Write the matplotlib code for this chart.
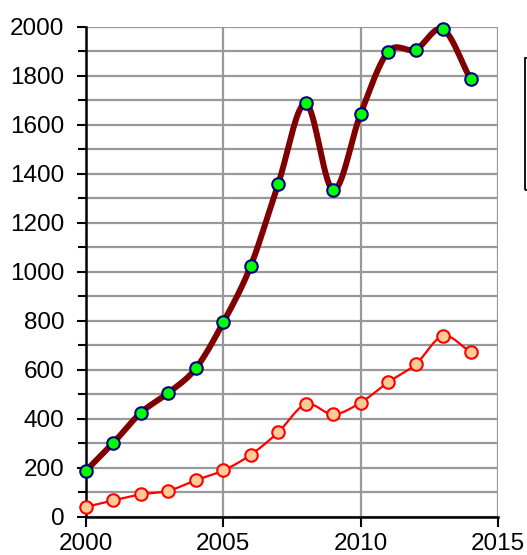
import numpy as np
import matplotlib
matplotlib.use("Agg")
import matplotlib.pyplot as plt
from matplotlib.patches import Rectangle
from matplotlib.ticker import MultipleLocator

years = [2000, 2001, 2002, 2003, 2004, 2005, 2006, 2007, 2008, 2009, 2010, 2011, 2012, 2013, 2014]
series_dark = [188, 302, 425, 506, 606, 794, 1025, 1360, 1688, 1334, 1646, 1899, 1908, 1990, 1787]
series_light = [40, 67, 91, 106, 149, 189, 253, 345, 459, 418, 466, 549, 622, 738, 672]
x_ticks = [2000, 2005, 2010, 2015]
y_ticks = [0, 200, 400, 600, 800, 1000, 1200, 1400, 1600, 1800, 2000]


def smooth(x, y, n=20):
    """Catmull-Rom spline through the data points (for a smoothed line)."""
    x = np.asarray(x, float)
    y = np.asarray(y, float)
    px = np.concatenate([[2 * x[0] - x[1]], x, [2 * x[-1] - x[-2]]])
    py = np.concatenate([[2 * y[0] - y[1]], y, [2 * y[-1] - y[-2]]])
    xs, ys = [], []
    t = np.linspace(0, 1, n, endpoint=False)
    for i in range(1, len(px) - 2):
        for P, out in ((px[i - 1:i + 3], xs), (py[i - 1:i + 3], ys)):
            a0, a1, a2, a3 = P
            out.extend(0.5 * ((2 * a1) + (-a0 + a2) * t + (2 * a0 - 5 * a1 + 4 * a2 - a3) * t ** 2
                              + (-a0 + 3 * a1 - 3 * a2 + a3) * t ** 3))
    xs.append(x[-1])
    ys.append(y[-1])
    return np.array(xs), np.array(ys)


plt.rcParams['font.family'] = ['Liberation Sans', 'DejaVu Sans']

fig = plt.figure(figsize=(5.27, 5.55), dpi=100)
ax = fig.add_axes([86 / 527, 1 - 516.7 / 555, (498 - 86) / 527, (516.7 - 27) / 555])

grid_color = '#999999'
ax.set_xlim(2000, 2015)
ax.set_ylim(0, 2000)
ax.set_xticks(x_ticks)
ax.set_yticks(y_ticks)
ax.yaxis.set_minor_locator(MultipleLocator(100))
ax.grid(True, which='major', axis='x', color=grid_color, linewidth=1.6, zorder=0)
ax.grid(True, which='both', axis='y', color=grid_color, linewidth=1.6, zorder=0)
ax.set_axisbelow(True)

for s in ['top', 'right']:
    ax.spines[s].set_visible(False)
for s in ['left', 'bottom']:
    ax.spines[s].set_linewidth(1.8)
    ax.spines[s].set_color('black')
    ax.spines[s].set_zorder(2)

ax.tick_params(axis='x', which='major', direction='out', length=7, width=1.5, pad=5, labelsize=17.5)
ax.tick_params(axis='y', which='major', direction='out', length=6.5, width=1.5, pad=9, labelsize=17.5)
ax.tick_params(axis='y', which='minor', direction='out', length=5.5, width=1.5)

# dark series
sx, sy = smooth(years, series_dark)
ax.plot(sx, sy, color='#800000', linewidth=4.3, solid_capstyle='round', solid_joinstyle='round',
        zorder=3, clip_on=False)
ax.plot(years, series_dark, linestyle='none', marker='o', markersize=9,
        markerfacecolor='#00ff00', markeredgecolor='#000080', markeredgewidth=1.5, zorder=4, clip_on=False)

# light series
lx, ly = smooth(years, series_light)
ax.plot(lx, ly, color='#ff0000', linewidth=1.6, zorder=3, clip_on=False)
ax.plot(years, series_light, linestyle='none', marker='o', markersize=9,
        markerfacecolor='#ffcc99', markeredgecolor='#ff0000', markeredgewidth=1.5, zorder=4, clip_on=False)

# legend frame (cut off at the right edge)
fig.patches.append(Rectangle((524.5 / 527, 1 - 190 / 555), 0.2, (190 - 57.5) / 555,
                             transform=fig.transFigure, fill=False, edgecolor='black', linewidth=1.3))

fig.savefig('out.png', dpi=100)
